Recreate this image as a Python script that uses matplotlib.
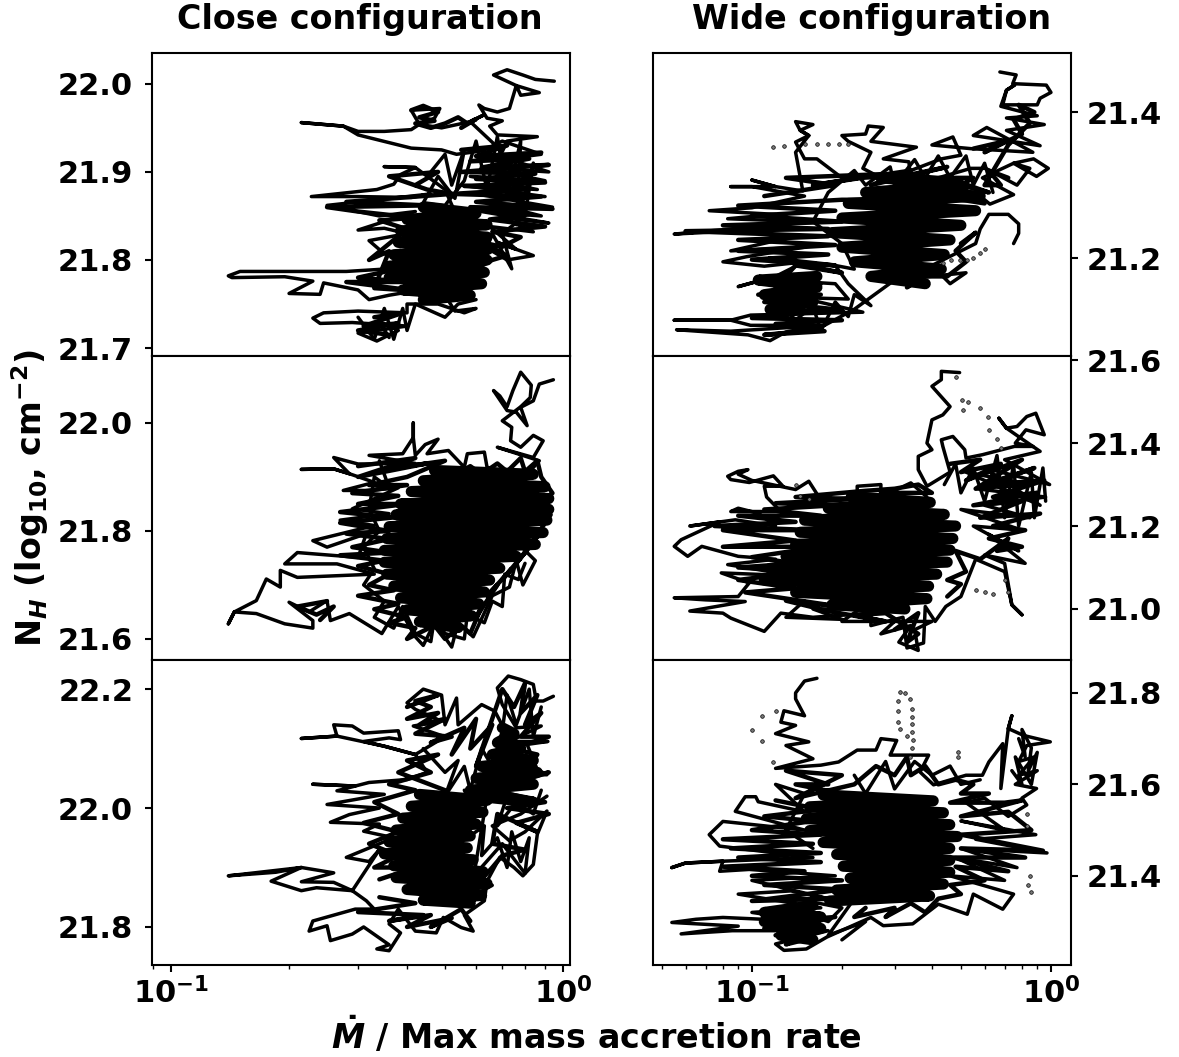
import matplotlib
matplotlib.use("Agg")
import matplotlib.pyplot as plt
from matplotlib.ticker import NullFormatter, LogLocator

nan = float('nan')

# (mdot, log NH), the trajectory of each run
close_top = [(0.95, 22.003), (0.85, 22.005), (0.79, 22.01), (0.72, 22.016), (0.665, 22.01), (0.76, 21.998), (0.87, 21.99),
             (0.78, 21.987), (0.76, 21.998), (0.73, 21.972), (0.68, 21.968), (0.63, 21.972), (0.61, 21.976), (0.64, 21.961),
             (0.70, 21.958), (0.65, 21.952), (0.68, 21.942), (0.86, 21.94), (0.72, 21.935), (0.70, 21.923), (0.58, 21.957),
             (0.63, 21.965), (0.58, 21.957), (0.49, 21.95), (0.43, 21.954), (0.47, 21.961), (0.485, 21.972), (0.41, 21.97),
             (0.43, 21.954), (0.41, 21.948), (0.35, 21.946), (0.30, 21.946), (0.275, 21.952), (0.215, 21.956), (0.275, 21.952),
             (0.30, 21.942), (0.41, 21.927), (0.49, 21.925), (0.535, 21.92), (0.625, 21.924), (0.70, 21.935), (0.88, 21.92),
             (0.72, 21.915), (0.92, 21.90), (0.62, 21.905), (0.90, 21.89), (0.58, 21.895), (0.86, 21.88), (0.55, 21.885),
             (0.90, 21.872), (0.60, 21.875), (0.94, 21.86), (0.65, 21.865), (0.88, 21.85), (0.62, 21.855), (0.92, 21.842),
             (0.70, 21.848), (0.84, 21.832), (0.65, 21.838), (0.76, 21.812), (0.68, 21.82), (0.84, 21.805), (0.72, 21.80),
             (0.66, 21.81), (0.60, 21.80), (0.50, 21.88), (0.42, 21.905), (0.35, 21.906), (0.42, 21.905), (0.385, 21.897),
             (0.37, 21.886), (0.335, 21.88), (0.228, 21.872), (0.30, 21.872), (0.41, 21.871), (0.46, 21.875), (0.25, 21.862),
             (0.34, 21.85), (0.42, 21.855), (0.30, 21.834), (0.35, 21.836), (0.40, 21.83), (0.32, 21.822), (0.35, 21.807),
             (0.385, 21.811), (0.36, 21.79), (0.28, 21.787), (0.205, 21.787), (0.15, 21.787), (0.14, 21.782), (0.143, 21.78),
             (0.195, 21.781), (0.23, 21.776), (0.20, 21.762), (0.24, 21.761), (0.245, 21.774), (0.30, 21.766), (0.32, 21.755),
             (0.36, 21.76), (0.42, 21.765), (0.50, 21.76), (0.53, 21.742), (0.60, 21.745), (0.56, 21.74), (0.48, 21.75),
             (0.40, 21.75), (0.40, 21.74), (0.30, 21.742), (0.245, 21.74), (0.23, 21.734), (0.24, 21.728), (0.29, 21.729),
             (0.40, 21.725), (0.30, 21.717), (0.335, 21.708), (0.38, 21.72), (0.34, 21.73), (0.36, 21.712)]
close_top_net = [(0.55, 21.925), (0.72, 21.93), (0.60, 21.918), (0.88, 21.922), (0.58, 21.912), (0.82, 21.915), (0.62, 21.905),
                 (0.92, 21.908), (0.55, 21.90), (0.85, 21.898), (0.60, 21.892), (0.90, 21.888), (0.56, 21.884), (0.80, 21.88),
                 (0.52, 21.875), (0.88, 21.872), (0.60, 21.866), (0.94, 21.858), (0.58, 21.86), (0.82, 21.852), (0.65, 21.846),
                 (0.90, 21.838), (0.66, 21.832), (0.78, 21.826), (0.70, 21.815), (0.62, 21.82), (0.72, 21.805), (0.66, 21.80),
                 (0.60, 21.79), (0.38, 21.79), (0.30, 21.78), (0.40, 21.775), (0.28, 21.775), (0.42, 21.765), (0.33, 21.768),
                 (0.36, 21.81), (0.32, 21.80), (0.40, 21.835), (0.34, 21.845), (0.42, 21.848), (0.30, 21.855), (0.25, 21.86),
                 (0.45, 21.862), (0.28, 21.866), (0.52, 21.875), (0.45, 21.88), (0.36, 21.895), (0.48, 21.90), (0.42, 21.885),
                 (nan, nan), (0.33, 21.735), (0.39, 21.74), (0.31, 21.725), (0.38, 21.728), (0.30, 21.72), (0.36, 21.715),
                 (nan, nan), (0.41, 21.97), (0.44, 21.975), (0.48, 21.968), (0.43, 21.962), (0.47, 21.958), (0.42, 21.955),
                 (0.46, 21.95), (0.50, 21.955), (0.54, 21.962), (0.57, 21.955), (0.60, 21.96), (0.55, 21.95)]
close_top_curl = [(0.46, 21.90), (0.50, 21.92), (0.52, 21.885), (0.56, 21.925), (0.53, 21.87), (0.48, 21.895), (0.44, 21.865), (0.50, 21.862),
                  (0.56, 21.89), (0.60, 21.935), (0.64, 21.88), (0.68, 21.94), (0.72, 21.87), (0.78, 21.935), (0.76, 21.84),
                  (0.84, 21.91), (0.80, 21.85), (0.70, 21.83), (0.74, 21.79), (0.66, 21.83), (0.60, 21.78),
                  (nan, nan), (0.30, 21.735), (0.33, 21.71), (0.35, 21.745), (0.37, 21.71), (0.39, 21.745), (0.40, 21.72),
                  (0.42, 21.75), (0.50, 21.735), (0.54, 21.75), (0.60, 21.755)]
close_top_core = [(0.44, 21.86), (0.60, 21.853), (0.40, 21.846), (0.64, 21.84), (0.385, 21.833), (0.64, 21.826), (0.38, 21.82),
                  (0.64, 21.813), (0.37, 21.806), (0.64, 21.80), (0.36, 21.793), (0.63, 21.786), (0.36, 21.78), (0.62, 21.773),
                  (0.39, 21.766), (0.58, 21.76), (0.44, 21.755)]

close_mid = [(0.945, 22.08), (0.87, 22.072), (0.84, 22.041), (0.78, 22.029), (0.81, 21.995), (0.76, 22.02), (0.72, 22.023),
             (0.665, 22.06), (0.69, 22.05), (0.72, 22.03), (0.745, 22.06), (0.78, 22.094), (0.83, 22.07), (0.825, 22.047),
             (0.78, 22.03), (0.70, 22.004), (0.74, 21.992), (0.735, 21.967), (0.78, 21.955), (0.84, 21.977), (0.89, 21.967),
             (0.84, 21.936), (0.68, 21.955), (0.87, 21.93), (0.80, 21.90), (0.64, 21.918), (0.63, 21.946), (0.57, 21.943),
             (0.56, 21.918), (0.51, 21.949), (0.45, 21.943), (0.48, 21.97), (0.445, 21.96), (0.42, 21.94), (0.415, 21.973),
             (0.415, 22.0), (0.415, 21.973), (0.39, 21.943), (0.32, 21.94), (0.42, 21.925), (0.30, 21.924), (0.26, 21.936),
             (0.285, 21.906), (0.26, 21.915), (0.215, 21.914), (0.26, 21.915), (0.285, 21.906), (0.33, 21.89), (0.275, 21.875),
             (0.32, 21.875), (0.38, 21.88), (0.29, 21.841), (0.36, 21.832), (0.27, 21.82), (0.33, 21.81), (0.23, 21.782),
             (0.25, 21.77), (0.315, 21.795), (0.30, 21.751), (0.21, 21.76), (0.195, 21.739), (0.265, 21.739), (0.33, 21.72),
             (0.21, 21.714), (0.19, 21.727), (0.19, 21.696), (0.175, 21.711), (0.165, 21.671), (0.145, 21.65), (0.14, 21.628),
             (0.145, 21.65), (0.165, 21.647), (0.195, 21.628), (0.23, 21.62), (0.23, 21.634), (0.20, 21.668), (0.225, 21.65),
             (0.25, 21.671), (0.255, 21.634), (0.285, 21.647), (0.345, 21.61), (0.38, 21.66), (0.42, 21.604), (0.44, 21.588),
             (0.47, 21.63), (0.52, 21.585), (0.54, 21.63), (0.59, 21.604), (0.66, 21.68), (0.73, 21.696), (0.76, 21.745),
             (0.79, 21.70), (0.85, 21.745), (0.76, 21.78)]
close_mid_net = [(0.30, 21.92), (0.42, 21.935), (0.30, 21.90), (0.45, 21.925), (0.36, 21.915), (0.50, 21.93), (0.40, 21.90), (0.32, 21.885),
                 (0.40, 21.885), (0.29, 21.87), (0.38, 21.865), (0.30, 21.85), (0.40, 21.85), (0.27, 21.835), (0.37, 21.825),
                 (0.27, 21.815), (0.36, 21.80), (0.28, 21.795), (0.36, 21.785), (0.29, 21.77), (0.36, 21.76), (0.27, 21.755),
                 (0.35, 21.745), (0.30, 21.735), (0.36, 21.72), (0.32, 21.70), (0.37, 21.69), (0.30, 21.68), (0.38, 21.665),
                 (0.33, 21.655), (0.40, 21.64), (0.36, 21.63), (0.42, 21.62), (0.40, 21.60), (0.47, 21.625), (0.50, 21.60),
                 (0.55, 21.625), (0.58, 21.61), (0.62, 21.66), (0.60, 21.64), (0.68, 21.70), (0.64, 21.68), (0.74, 21.73),
                 (0.70, 21.71), (0.80, 21.76), (0.76, 21.74), (0.86, 21.79), (0.80, 21.76), (0.93, 21.83), (0.86, 21.85),
                 (0.94, 21.87), (0.88, 21.90), (0.86, 21.93), (0.80, 21.91), (0.78, 21.935), (0.72, 21.91), (0.68, 21.925),
                 (0.62, 21.905), (0.58, 21.92), (0.52, 21.90),
                 (nan, nan), (0.25, 21.67), (0.21, 21.66), (0.235, 21.645), (0.26, 21.66), (0.24, 21.635)]
close_mid_curl = [(0.34, 21.93), (0.36, 21.88), (0.33, 21.90), (0.32, 21.84), (0.34, 21.80), (0.31, 21.77), (0.33, 21.73), (0.31, 21.70),
                  (0.35, 21.67), (0.33, 21.64), (0.37, 21.62), (0.39, 21.66), (0.42, 21.61), (0.46, 21.595), (0.47, 21.64),
                  (0.50, 21.61), (0.56, 21.60), (0.57, 21.645), (0.63, 21.63), (0.66, 21.67), (0.70, 21.66), (0.71, 21.72),
                  (0.77, 21.71), (0.80, 21.74)]
close_mid_core = [(0.47, 21.912), (0.84, 21.905), (0.44, 21.893), (0.90, 21.882), (0.41, 21.873), (0.92, 21.86), (0.385, 21.85),
                  (0.92, 21.84), (0.375, 21.83), (0.91, 21.82), (0.36, 21.808), (0.89, 21.797), (0.355, 21.786), (0.85, 21.775),
                  (0.35, 21.764), (0.76, 21.753), (0.35, 21.742), (0.69, 21.731), (0.355, 21.72), (0.65, 21.709), (0.37, 21.698),
                  (0.63, 21.687), (0.385, 21.676), (0.61, 21.665), (0.40, 21.654), (0.585, 21.643), (0.43, 21.632), (0.54, 21.621)]

close_bot = [(0.945, 22.188), (0.89, 22.18), (0.855, 22.18), (0.84, 22.208), (0.78, 22.216), (0.725, 22.222), (0.68, 22.202),
             (0.70, 22.174), (0.76, 22.135), (0.88, 22.138), (0.73, 22.112), (0.915, 22.112), (0.81, 22.107), (0.87, 22.056),
             (0.91, 22.056), (0.78, 22.08), (0.67, 22.163), (0.62, 22.174), (0.54, 22.14), (0.535, 22.185), (0.50, 22.14),
             (0.49, 22.19), (0.44, 22.2), (0.40, 22.177), (0.42, 22.166), (0.49, 22.146), (0.415, 22.138), (0.50, 22.12),
             (0.42, 22.09), (0.35, 22.104), (0.31, 22.112), (0.36, 22.118), (0.385, 22.115), (0.38, 22.13), (0.31, 22.126),
             (0.29, 22.138), (0.26, 22.14), (0.265, 22.121), (0.215, 22.117), (0.265, 22.121), (0.35, 22.104), (0.42, 22.09),
             (0.45, 22.06), (0.40, 22.048), (0.32, 22.043), (0.295, 22.037), (0.23, 22.04), (0.295, 22.037), (0.265, 22.029),
             (0.35, 22.023), (0.25, 22.006), (0.34, 22.0), (0.285, 21.989), (0.255, 21.976), (0.34, 21.973), (0.31, 21.961),
             (0.37, 21.95), (0.28, 21.917), (0.32, 21.91), (0.34, 21.93), (0.29, 21.861), (0.235, 21.866), (0.215, 21.861),
             (0.18, 21.877), (0.215, 21.9), (0.14, 21.886), (0.185, 21.892), (0.215, 21.9), (0.26, 21.891), (0.215, 21.876),
             (0.26, 21.875), (0.29, 21.861), (0.315, 21.844), (0.33, 21.83), (0.295, 21.83), (0.23, 21.81), (0.225, 21.793),
             (0.25, 21.802), (0.255, 21.777), (0.29, 21.788), (0.31, 21.80), (0.36, 21.77), (0.335, 21.763), (0.36, 21.76),
             (0.385, 21.79), (0.36, 21.805), (0.38, 21.83), (0.42, 21.793), (0.475, 21.79), (0.495, 21.816), (0.55, 21.799),
             (0.59, 21.793), (0.56, 21.82), (0.63, 21.844), (0.64, 21.877), (0.69, 21.917), (0.75, 21.9), (0.79, 21.886),
             (0.84, 21.905), (0.86, 21.956), (0.91, 21.995), (0.80, 21.96), (0.73, 21.945), (0.66, 21.97), (0.78, 21.99),
             (0.91, 22.02)]
close_bot_net = [(0.40, 22.17), (0.48, 22.19), (0.42, 22.18), (0.46, 22.17), (0.40, 22.15), (0.48, 22.16), (0.43, 22.14), (0.50, 22.15),
                 (0.42, 22.125), (0.52, 22.12), (0.46, 22.11), (0.56, 22.135), (0.52, 22.09), (0.60, 22.15), (0.58, 22.10),
                 (0.66, 22.14), (0.60, 22.07), (0.70, 22.20), (0.75, 22.17), (0.80, 22.21), (0.78, 22.16), (0.86, 22.19),
                 (0.80, 22.14), (0.88, 22.16), (0.78, 22.12), (0.92, 22.12), (0.74, 22.10), (0.86, 22.09), (0.78, 22.05),
                 (0.92, 22.06), (0.66, 22.03), (0.90, 22.01), (0.72, 22.0), (0.92, 21.99), (0.76, 21.975), (0.86, 21.96),
                 (0.68, 21.99), (0.66, 21.94), (0.80, 21.93), (0.70, 21.92), (0.66, 21.90), (0.62, 21.88),
                 (nan, nan), (0.34, 21.88), (0.42, 21.90), (0.33, 21.90), (0.38, 21.92), (0.32, 21.94), (0.38, 21.96), (0.31, 21.975),
                 (0.38, 21.99), (0.33, 22.01), (0.42, 22.03), (0.36, 22.04), (0.46, 22.06), (0.40, 22.08), (0.48, 22.09),
                 (0.38, 22.06), (0.50, 22.03),
                 (nan, nan), (0.34, 21.85), (0.42, 21.84), (0.30, 21.825), (0.44, 21.82), (0.36, 21.81), (0.46, 21.82),
                 (0.40, 21.80), (0.52, 21.815), (0.46, 21.80), (0.55, 21.83), (0.58, 21.81)]
close_bot_curl = [(0.56, 22.03), (0.60, 21.99), (0.57, 21.95), (0.63, 21.97), (0.62, 21.92), (0.68, 21.95), (0.72, 21.90), (0.74, 21.96),
                  (0.78, 21.91), (0.82, 21.95), (0.80, 21.89), (0.70, 21.94), (0.60, 21.89), (0.66, 21.87), (0.58, 21.85),
                  (0.64, 22.02), (0.72, 22.02), (0.68, 21.97), (0.76, 22.01), (0.84, 21.99), (0.88, 22.03),
                  (nan, nan), (0.44, 22.10), (0.50, 22.06), (0.54, 22.08), (0.50, 22.02), (0.56, 22.07), (0.58, 22.03), (0.62, 22.10),
                  (0.66, 22.07), (0.70, 22.13), (0.72, 22.19), (0.76, 22.14), (0.82, 22.20), (0.84, 22.12), (0.88, 22.17)]
close_bot_core = [(0.43, 22.023), (0.64, 22.013), (0.41, 22.003), (0.625, 21.993), (0.39, 21.983), (0.60, 21.973), (0.375, 21.963),
                  (0.58, 21.953), (0.36, 21.943), (0.57, 21.933), (0.35, 21.923), (0.59, 21.913), (0.37, 21.903), (0.625, 21.893),
                  (0.375, 21.883), (0.64, 21.873), (0.40, 21.863), (0.62, 21.853), (0.44, 21.845), (0.58, 21.84),
                  (nan, nan), (0.60, 22.02), (0.84, 22.01), (0.58, 22.03), (0.84, 22.04), (0.60, 22.05), (0.86, 22.06), (0.62, 22.07),
                  (0.84, 22.08), (0.66, 22.09), (0.78, 22.10), (0.68, 22.11), (0.75, 22.125), (0.70, 22.135)]

wide_top = [(0.675, 21.455), (0.765, 21.451), (0.745, 21.439), (0.965, 21.437), (1.0, 21.427), (0.92, 21.419), (0.90, 21.41),
            (0.69, 21.41), (0.71, 21.43), (0.755, 21.437), (0.71, 21.43), (0.68, 21.408), (0.90, 21.395), (0.71, 21.392),
            (0.95, 21.383), (0.71, 21.375), (0.92, 21.354), (0.55, 21.368), (0.61, 21.379), (0.87, 21.345), (0.54, 21.35),
            (0.40, 21.355), (0.47, 21.366), (0.50, 21.341), (0.43, 21.336), (0.32, 21.316), (0.42, 21.31), (0.54, 21.323),
            (0.605, 21.323), (0.77, 21.30), (0.85, 21.323), (0.75, 21.33), (0.895, 21.312), (0.98, 21.323), (0.875, 21.336),
            (0.75, 21.33), (0.59, 21.31), (0.75, 21.287), (0.625, 21.274), (0.56, 21.29), (0.38, 21.30), (0.34, 21.304),
            (0.335, 21.332), (0.275, 21.336), (0.355, 21.352), (0.25, 21.36), (0.275, 21.379), (0.245, 21.381), (0.24, 21.37),
            (0.20, 21.368), (0.21, 21.36), (0.25, 21.345), (0.235, 21.323), (0.27, 21.31), (0.20, 21.31), (0.165, 21.336),
            (0.15, 21.336), (0.14, 21.359), (0.155, 21.368), (0.145, 21.375), (0.16, 21.383), (0.14, 21.387), (0.145, 21.375),
            (0.155, 21.368), (0.14, 21.345), (0.148, 21.292), (0.12, 21.298), (0.10, 21.307), (0.12, 21.298), (0.085, 21.298),
            (0.10, 21.298), (0.15, 21.285), (0.10, 21.269), (0.072, 21.265), (0.12, 21.26), (0.083, 21.254), (0.15, 21.25),
            (0.085, 21.24), (0.055, 21.233), (0.085, 21.237), (0.14, 21.23), (0.085, 21.21), (0.15, 21.215), (0.096, 21.202),
            (0.08, 21.195), (0.11, 21.189), (0.15, 21.195), (0.12, 21.175), (0.09, 21.161), (0.11, 21.171), (0.19, 21.165),
            (0.21, 21.144), (0.145, 21.146), (0.235, 21.126), (0.099, 21.122), (0.085, 21.115), (0.055, 21.115), (0.085, 21.115),
            (0.099, 21.108), (0.175, 21.108), (0.085, 21.10), (0.056, 21.102), (0.097, 21.095), (0.115, 21.087), (0.13, 21.099),
            (0.175, 21.108), (0.22, 21.13), (0.30, 21.17), (0.52, 21.18), (0.46, 21.165), (0.40, 21.19), (0.56, 21.22),
            (0.58, 21.24), (0.62, 21.26), (0.72, 21.26), (0.78, 21.247), (0.78, 21.234), (0.75, 21.22)]
wide_top_net = [(0.11, 21.285), (0.19, 21.30), (0.13, 21.31), (0.27, 21.315), (0.16, 21.30), (0.34, 21.32), (0.25, 21.30), (0.45, 21.325),
                (0.30, 21.31), (0.55, 21.31), (0.50, 21.30), (0.62, 21.29), (0.45, 21.31), (0.60, 21.275), (0.50, 21.28),
                (0.20, 21.28), (0.09, 21.272), (0.19, 21.265), (0.10, 21.258), (0.20, 21.25), (0.08, 21.245), (0.18, 21.24),
                (0.06, 21.237), (0.18, 21.23), (0.09, 21.225), (0.19, 21.218), (0.09, 21.21), (0.18, 21.205), (0.10, 21.198),
                (0.19, 21.19), (0.115, 21.20), (0.20, 21.18), (0.14, 21.19), (0.12, 21.16), (0.17, 21.165), (0.105, 21.15),
                (0.17, 21.15), (0.11, 21.14), (0.19, 21.13), (0.12, 21.125), (0.20, 21.13), (0.10, 21.118), (0.20, 21.115),
                (0.12, 21.11), (0.175, 21.10), (0.11, 21.095), (0.15, 21.10),
                (nan, nan), (0.50, 21.22), (0.56, 21.235), (0.48, 21.21), (0.52, 21.195), (0.45, 21.175), (0.38, 21.175),
                (0.33, 21.16), (0.36, 21.175),
                (nan, nan), (0.55, 21.35), (0.70, 21.36), (0.60, 21.345), (0.80, 21.37), (0.75, 21.39), (0.88, 21.40),
                (0.78, 21.41), (0.85, 21.385), (0.72, 21.355), (0.60, 21.30), (0.68, 21.30), (0.62, 21.32), (0.72, 21.31)]
wide_top_curl = [(0.12, 21.145), (0.14, 21.115), (0.16, 21.135), (0.17, 21.10), (0.19, 21.14), (0.21, 21.12), (0.22, 21.15), (0.25, 21.135),
                 (0.21, 21.165), (0.19, 21.19), (0.22, 21.185), (0.20, 21.22), (0.16, 21.25), (0.18, 21.29), (0.22, 21.32),
                 (0.24, 21.30), (0.29, 21.325), (0.30, 21.30), (0.35, 21.335), (0.38, 21.31), (0.42, 21.34), (0.46, 21.31),
                 (0.52, 21.34), (0.55, 21.30), (0.60, 21.33), (0.64, 21.29)]
wide_top_core = [(0.27, 21.31), (0.50, 21.30), (0.24, 21.29), (0.58, 21.285), (0.21, 21.275), (0.56, 21.265), (0.20, 21.255),
                 (0.50, 21.245), (0.185, 21.235), (0.46, 21.225), (0.20, 21.215), (0.44, 21.205), (0.22, 21.195), (0.43, 21.185),
                 (0.25, 21.175), (0.38, 21.165), (nan, nan), (0.165, 21.175), (0.105, 21.17), (0.165, 21.16), (0.11, 21.15),
                 (0.16, 21.14), (0.115, 21.13)]
wide_top_sparse = [(0.435, 21.194), (0.465, 21.197), (0.495, 21.198), (0.525, 21.198), (0.55, 21.20), (0.58, 21.207), (0.60, 21.213),
                   (0.118, 21.352), (0.128, 21.353), (0.15, 21.357), (0.165, 21.357), (0.18, 21.357), (0.195, 21.357), (0.21, 21.357)]

wide_mid = [(0.495, 21.57), (0.43, 21.573), (0.43, 21.553), (0.40, 21.537), (0.46, 21.488), (0.435, 21.468), (0.40, 21.456),
            (0.385, 21.40), (0.40, 21.384), (0.36, 21.368), (0.36, 21.336), (0.385, 21.296), (0.46, 21.33), (0.435, 21.392),
            (0.43, 21.408), (0.47, 21.416), (0.515, 21.384), (0.52, 21.364), (0.59, 21.372), (0.755, 21.392), (0.87, 21.392),
            (0.76, 21.40), (0.825, 21.432), (0.95, 21.42), (0.89, 21.472), (0.83, 21.464), (0.77, 21.44), (0.71, 21.436),
            (0.67, 21.46), (0.71, 21.436), (0.80, 21.41), (0.92, 21.38), (0.70, 21.36), (0.99, 21.30), (0.60, 21.34),
            (0.92, 21.25), (0.52, 21.33), (0.85, 21.30), (0.56, 21.29), (0.96, 21.27), (0.60, 21.25), (0.85, 21.22),
            (0.50, 21.24), (0.80, 21.19), (0.55, 21.20), (0.78, 21.14), (0.62, 21.18), (0.82, 21.11), (0.60, 21.13),
            (0.70, 21.11), (0.725, 21.047), (0.74, 21.01), (0.80, 20.986), (0.74, 21.01), (0.70, 21.09), (0.56, 21.12),
            (0.50, 21.03), (0.445, 21.006), (0.41, 20.97), (0.38, 21.006), (0.375, 20.918), (0.33, 20.906), (0.32, 20.98),
            (0.25, 20.96), (0.25, 20.99), (0.16, 20.98), (0.125, 20.99), (0.11, 20.946), (0.085, 20.978), (0.08, 20.99),
            (0.062, 20.995), (0.095, 21.018), (0.07, 21.022), (0.055, 21.027), (0.09, 21.03), (0.098, 21.063), (0.079, 21.087),
            (0.14, 21.08), (0.083, 21.107), (0.12, 21.12), (0.09, 21.127), (0.068, 21.151), (0.061, 21.127), (0.055, 21.151),
            (0.058, 21.167), (0.078, 21.21), (0.062, 21.2), (0.088, 21.215), (0.12, 21.20), (0.105, 21.231), (0.09, 21.243),
            (0.085, 21.235), (0.125, 21.235), (0.112, 21.27), (0.11, 21.296), (0.127, 21.296), (0.118, 21.321), (0.098, 21.305),
            (0.085, 21.312), (0.083, 21.32), (0.09, 21.332), (0.097, 21.336), (0.09, 21.325), (0.10, 21.31), (0.14, 21.288),
            (0.155, 21.308), (0.17, 21.263), (0.225, 21.27), (0.225, 21.296), (0.27, 21.30), (0.27, 21.27), (0.34, 21.304),
            (0.385, 21.27)]
wide_mid_net = [(0.46, 21.35), (0.58, 21.36), (0.50, 21.33), (0.68, 21.35), (0.52, 21.31), (0.80, 21.36), (0.56, 21.29), (0.88, 21.34),
                (0.60, 21.30), (0.95, 21.31), (0.64, 21.27), (0.90, 21.28), (0.55, 21.25), (0.80, 21.26), (0.58, 21.22),
                (0.92, 21.23), (0.64, 21.20), (0.82, 21.19), (0.62, 21.17), (0.80, 21.15), (0.66, 21.14), (0.72, 21.17),
                (0.58, 21.12), (0.48, 21.14), (0.52, 21.09), (0.45, 21.07), (0.50, 21.06), (0.45, 21.03),
                (nan, nan), (0.30, 20.95), (0.36, 20.99), (0.33, 20.92), (0.36, 20.94), (0.28, 20.99), (0.22, 20.985),
                (0.28, 20.97), (0.18, 20.995), (0.13, 21.02), (0.20, 21.005), (0.095, 21.04), (0.14, 21.05), (0.09, 21.07),
                (0.15, 21.09), (0.09, 21.10), (0.14, 21.11), (0.10, 21.125), (0.17, 21.15), (0.08, 21.15), (0.14, 21.165),
                (0.08, 21.19), (0.16, 21.19), (0.075, 21.20), (0.14, 21.21), (0.09, 21.225), (0.17, 21.225), (0.11, 21.24),
                (0.19, 21.25), (0.12, 21.255), (0.22, 21.265), (0.14, 21.27), (0.24, 21.285), (0.30, 21.29), (0.36, 21.30),
                (0.40, 21.28), (0.27, 21.28)]
wide_mid_curl = [(0.44, 21.30), (0.48, 21.35), (0.50, 21.28), (0.55, 21.34), (0.60, 21.26), (0.66, 21.37), (0.70, 21.22), (0.75, 21.35),
                 (0.78, 21.20), (0.86, 21.33), (0.88, 21.22), (0.94, 21.34), (0.96, 21.26),
                 (nan, nan), (0.30, 20.97), (0.27, 20.94), (0.34, 20.96), (0.31, 20.92), (0.36, 20.90), (0.35, 20.95), (0.40, 20.97),
                 (0.20, 20.97), (0.23, 21.0), (0.16, 21.0), (0.20, 20.975), (0.13, 20.98), (0.15, 21.02)]
wide_mid_core = [(0.215, 21.271), (0.395, 21.257), (0.18, 21.243), (0.44, 21.228), (0.15, 21.214), (0.48, 21.2), (0.145, 21.185),
                 (0.47, 21.17), (0.14, 21.156), (0.46, 21.142), (0.13, 21.127), (0.45, 21.113), (0.115, 21.098), (0.415, 21.084),
                 (0.11, 21.07), (0.39, 21.055), (0.14, 21.04), (0.385, 21.025), (0.185, 21.01), (0.325, 21.0)]
wide_mid_sparse = [(0.48, 21.56), (0.505, 21.504), (0.51, 21.48), (0.53, 21.50), (0.58, 21.484), (0.615, 21.464), (0.62, 21.432),
                   (0.68, 21.388), (0.66, 21.41), (0.56, 21.045), (0.60, 21.04), (0.64, 21.035), (0.145, 21.273), (0.155, 21.265),
                   (0.14, 21.30), (0.70, 21.07), (0.72, 21.04)]

wide_bot = [(0.165, 21.832), (0.15, 21.826), (0.14, 21.8), (0.14, 21.787), (0.15, 21.75), (0.128, 21.761), (0.125, 21.736),
            (0.14, 21.729), (0.12, 21.711), (0.155, 21.693), (0.13, 21.685), (0.16, 21.656), (0.12, 21.635), (0.17, 21.642),
            (0.195, 21.649), (0.225, 21.675), (0.26, 21.675), (0.27, 21.7), (0.305, 21.696), (0.29, 21.664), (0.39, 21.664),
            (0.365, 21.627), (0.405, 21.599), (0.52, 21.62), (0.59, 21.62), (0.62, 21.649), (0.69, 21.689), (0.68, 21.591),
            (0.72, 21.722), (0.74, 21.75), (0.72, 21.722), (0.81, 21.707), (0.995, 21.693), (0.83, 21.685), (0.78, 21.65),
            (0.88, 21.66), (0.78, 21.62), (0.90, 21.63), (0.76, 21.60), (0.895, 21.591), (0.80, 21.57), (0.83, 21.555),
            (0.72, 21.53), (0.60, 21.57), (0.52, 21.56), (0.70, 21.50), (0.50, 21.52), (0.89, 21.49), (0.56, 21.48),
            (0.97, 21.45), (0.50, 21.46), (0.77, 21.418), (0.48, 21.44), (0.70, 21.39), (0.46, 21.40), (0.75, 21.36),
            (0.69, 21.327), (0.55, 21.36), (0.525, 21.316), (0.42, 21.338), (0.345, 21.295), (0.275, 21.291), (0.25, 21.309),
            (0.178, 21.266), (0.152, 21.24), (0.128, 21.237), (0.12, 21.251), (0.18, 21.28), (0.086, 21.28), (0.058, 21.273),
            (0.09, 21.29), (0.054, 21.298), (0.065, 21.305), (0.08, 21.309), (0.16, 21.30), (0.10, 21.32), (0.17, 21.33),
            (0.09, 21.36), (0.135, 21.367), (0.18, 21.35), (0.10, 21.39), (0.19, 21.40), (0.098, 21.414), (0.078, 21.41),
            (0.08, 21.432), (0.06, 21.428), (0.054, 21.418), (0.06, 21.428), (0.08, 21.432), (0.16, 21.44), (0.078, 21.465),
            (0.072, 21.49), (0.08, 21.519), (0.15, 21.50), (0.088, 21.541), (0.095, 21.573), (0.103, 21.573), (0.105, 21.562),
            (0.15, 21.54), (0.12, 21.60), (0.15, 21.58), (0.13, 21.50), (0.16, 21.46)]
wide_bot_net = [(0.20, 21.58), (0.14, 21.60), (0.18, 21.60), (0.13, 21.63), (0.20, 21.62), (0.14, 21.57), (0.22, 21.60), (0.26, 21.64),
                (0.30, 21.62), (0.33, 21.66), (0.34, 21.62), (0.38, 21.64), (0.42, 21.60), (0.48, 21.61), (0.55, 21.60),
                (0.50, 21.58), (0.62, 21.58), (0.46, 21.56), (0.70, 21.56), (0.80, 21.565), (0.50, 21.53), (0.72, 21.54),
                (0.86, 21.50), (0.50, 21.49), (0.94, 21.455), (0.50, 21.46), (0.82, 21.44), (0.47, 21.44), (0.72, 21.41),
                (0.48, 21.42), (0.60, 21.39), (0.46, 21.38), (0.50, 21.36), (0.42, 21.35), (0.38, 21.32), (0.34, 21.34),
                (0.28, 21.31), (0.30, 21.33), (0.22, 21.31), (0.24, 21.33),
                (nan, nan), (0.19, 21.35), (0.10, 21.345), (0.20, 21.37), (0.11, 21.38), (0.20, 21.39), (0.10, 21.40),
                (0.15, 21.41), (0.08, 21.42), (0.17, 21.43), (0.09, 21.44), (0.17, 21.45), (0.085, 21.46), (0.16, 21.47),
                (0.08, 21.48), (0.17, 21.49), (0.10, 21.50), (0.16, 21.52), (0.11, 21.53), (0.17, 21.545), (0.12, 21.565),
                (nan, nan), (0.12, 21.30), (0.19, 21.31), (0.11, 21.285), (0.17, 21.29), (0.12, 21.27), (0.15, 21.26),
                (0.13, 21.25), (0.16, 21.275)]
wide_bot_curl = [(0.78, 21.70), (0.82, 21.66), (0.80, 21.72), (0.86, 21.68), (0.84, 21.63), (0.90, 21.67), (0.86, 21.60), (0.76, 21.66),
                 (0.80, 21.60), (0.74, 21.63), (nan, nan), (0.22, 21.62), (0.24, 21.58), (0.28, 21.65), (0.30, 21.59), (0.35, 21.65),
                 (0.40, 21.62), (0.46, 21.64), (0.50, 21.60), (0.58, 21.61), (nan, nan), (0.14, 21.30), (0.16, 21.27),
                 (0.13, 21.33), (0.18, 21.30), (0.20, 21.33), (0.14, 21.35), (0.22, 21.35), (0.18, 21.27), (0.24, 21.30), (0.20, 21.26)]
wide_bot_core = [(0.173, 21.577), (0.404, 21.564), (0.156, 21.551), (0.437, 21.538), (0.152, 21.525), (0.459, 21.512), (0.156, 21.499),
                 (0.486, 21.486), (0.173, 21.473), (0.459, 21.46), (0.192, 21.447), (0.459, 21.434), (0.202, 21.421), (0.459, 21.408),
                 (0.213, 21.395), (0.437, 21.382), (0.192, 21.369), (0.393, 21.356), (0.182, 21.345),
                 (nan, nan), (0.16, 21.335), (0.11, 21.32), (0.17, 21.31), (0.11, 21.30), (0.17, 21.285), (0.125, 21.27), (0.16, 21.26)]
wide_bot_sparse = [(0.308, 21.783), (0.307, 21.761), (0.307, 21.737), (0.313, 21.722), (0.329, 21.706), (0.346, 21.696), (0.342, 21.714),
                   (0.344, 21.732), (0.342, 21.747), (0.342, 21.765), (0.338, 21.787), (0.325, 21.8), (0.313, 21.801), (0.342, 21.68),
                   (0.338, 21.66), (0.49, 21.67), (0.49, 21.66), (0.83, 21.535), (0.83, 21.51), (0.85, 21.40), (0.86, 21.365),
                   (0.84, 21.38), (0.12, 21.76), (0.108, 21.75), (0.10, 21.72), (0.108, 21.695), (0.118, 21.65)]

panels = [close_top, wide_top, close_mid, wide_mid, close_bot, wide_bot]
nets = [close_top_net, wide_top_net, close_mid_net, wide_mid_net, close_bot_net, wide_bot_net]
curls = [close_top_curl, wide_top_curl, close_mid_curl, wide_mid_curl, close_bot_curl, wide_bot_curl]
cores = [close_top_core, wide_top_core, close_mid_core, wide_mid_core, close_bot_core, wide_bot_core]
sparses = [[], wide_top_sparse, [], wide_mid_sparse, [], wide_bot_sparse]

close_xlim = (0.0894, 1.042)
wide_xlim = (0.0467, 1.167)
ylims = [(21.691, 22.035), (21.066, 21.481), (21.561, 22.124), (20.877, 21.61), (21.736, 22.249), (21.205, 21.872)]
yticks = [[21.7, 21.8, 21.9, 22.0], [21.2, 21.4], [21.6, 21.8, 22.0], [21.0, 21.2, 21.4, 21.6], [21.8, 22.0, 22.2], [21.4, 21.6, 21.8]]
titles = ["Close configuration", "Wide configuration"]
title_centers = [360, 872]

W, H = 1179, 1057
fig = plt.figure(figsize=(W / 100, H / 100), dpi=100)
plt.rcParams['font.weight'] = 'bold'

col_left = [152, 653]
rows_px = [(53, 356), (356, 660), (660, 965)]

for i in range(6):
    row = i // 2
    col = i % 2
    top, bottom = rows_px[row]
    ax = fig.add_axes([col_left[col] / W, 1 - bottom / H, 418 / W, (bottom - top) / H])
    ax.set_xscale('log')

    x, y = zip(*panels[i])
    ax.plot(x, y, color='black', lw=2.5, solid_joinstyle='round', solid_capstyle='round')
    nx, ny = zip(*nets[i])
    ax.plot(nx, ny, color='black', lw=3.2, solid_joinstyle='round', solid_capstyle='round')
    qx, qy = zip(*curls[i])
    ax.plot(qx, qy, color='black', lw=2.5, solid_joinstyle='round', solid_capstyle='round')
    cx, cy = zip(*cores[i])
    ax.plot(cx, cy, color='black', lw=8, solid_joinstyle='round', solid_capstyle='round')
    if sparses[i]:
        sx, sy = zip(*sparses[i])
        ax.plot(sx, sy, 'o', ms=2.6, mfc='#777777', mec='black', mew=0.5)

    ax.set_xlim(close_xlim if col == 0 else wide_xlim)
    ax.set_ylim(ylims[i])
    ax.set_yticks(yticks[i])
    ax.set_yticklabels([f"{v:.1f}" for v in yticks[i]], fontsize=22, fontweight='bold')
    if col == 1:
        ax.yaxis.tick_right()
    ax.tick_params(axis='y', width=1.5, length=5, pad=8.5 if col == 0 else 6.5)
    for s in ax.spines.values():
        s.set_linewidth(1.5)

    if row == 2:
        ax.set_xticks([0.1, 1.0])
        ax.set_xticklabels([r"$\mathbf{10^{-1}}$", r"$\mathbf{10^{0}}$"], fontsize=22)
        ax.xaxis.set_minor_locator(LogLocator(base=10, subs=[2, 3, 4, 5, 6, 7, 8, 9], numticks=10))
        ax.xaxis.set_minor_formatter(NullFormatter())
        ax.tick_params(axis='x', which='major', width=1.5, length=5)
        ax.tick_params(axis='x', which='minor', width=1, length=3)
    else:
        ax.set_xticks([])
        ax.minorticks_off()
        ax.tick_params(axis='x', which='both', length=0, labelbottom=False)

    if row == 0:
        fig.text(title_centers[col] / W, 1 - 29 / H, titles[col], fontsize=24, fontweight='bold', ha='center', va='baseline')

fig.text(30 / W, 1 - 498 / H, r"N$_{\mathbfit{H}}$ (log$_{\mathbf{10}}$, cm$^{\mathbf{-2}}$)", rotation=90,
         fontsize=24, fontweight='bold', ha='center', va='center')
fig.text(596 / W, 1 - 1036 / H, r"$\dot{\mathbfit{M}}$ / Max mass accretion rate", fontsize=24, fontweight='bold',
         ha='center', va='center')

fig.savefig("out.png", dpi=100)
